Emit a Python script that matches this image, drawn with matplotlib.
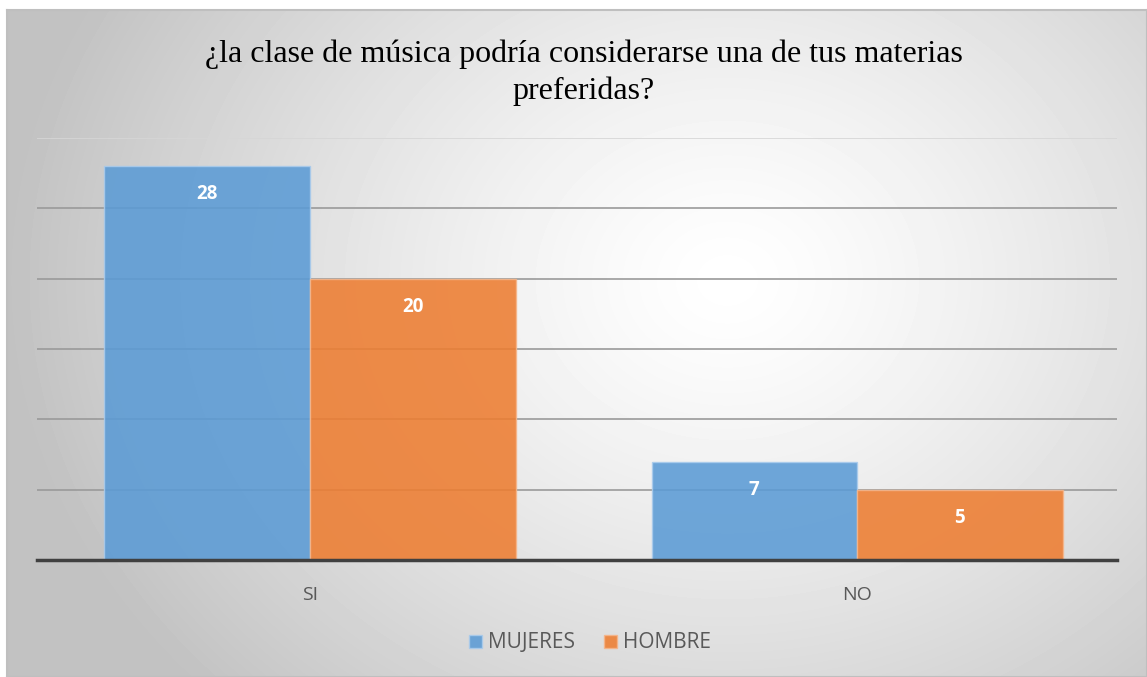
import numpy as np
import matplotlib.pyplot as plt

categorias = ['SI', 'NO']
mujeres = [28, 7]
hombre = [20, 5]
series = ['MUJERES', 'HOMBRE']
yticks = [0, 5, 10, 15, 20, 25, 30]

W, H = 1147, 677
fig = plt.figure(figsize=(W / 100, H / 100), dpi=100)
fig.patch.set_facecolor('white')

# fondo con degradado radial
bg = fig.add_axes([7 / W, 0, (W - 7) / W, (H - 10) / H])
xx, yy = np.meshgrid(np.arange(W - 7), np.arange(H - 10))
r = np.hypot(xx - 720, (yy - 270) * 1.2) / 720
val = 1 - 0.24 * np.clip(r, 0, 1) ** 1.3
bg.imshow(val, cmap='gray', vmin=0, vmax=1, aspect='auto', interpolation='bilinear')
bg.set_xticks([])
bg.set_yticks([])
for s in bg.spines.values():
    s.set_color('#bfbfbf')
    s.set_linewidth(1.5)

ax = fig.add_axes([37 / W, 1 - 560 / H, 1080 / W, 422 / H])
ax.set_facecolor('none')

x = np.arange(len(categorias))
w = 0.3757
b1 = ax.bar(x - w / 2, mujeres, w, color='#5B9BD5', alpha=0.88, edgecolor='#a9cbec',
            linewidth=1, label=series[0], zorder=3)
b2 = ax.bar(x + w / 2, hombre, w, color='#ED7D31', alpha=0.88, edgecolor='#f5b58a',
            linewidth=1, label=series[1], zorder=3)

for bars in (b1, b2):
    for bar in bars:
        ax.annotate(str(int(bar.get_height())),
                    (bar.get_x() + bar.get_width() / 2, bar.get_height()),
                    xytext=(0, -28), textcoords='offset pixels', ha='center', va='center',
                    color='white', fontsize=13.5, fontweight='bold', family='Open Sans', zorder=4)

ax.set_ylim(0, 30)
ax.set_xlim(-0.499, 1.475)
ax.set_yticks(yticks)
ax.yaxis.grid(True, color='#9a9a9a', linewidth=1.2, zorder=1)
ax.get_ygridlines()[-1].set_color('#d6d6d6')
ax.tick_params(axis='y', length=0, labelleft=False)
ax.set_xticks(x)
ax.set_xticklabels(categorias)
ax.tick_params(axis='x', length=0, pad=19, labelsize=14, labelcolor='#595959')
for lbl in ax.get_xticklabels():
    lbl.set_family('Open Sans')
for s in ['top', 'right', 'left']:
    ax.spines[s].set_visible(False)
ax.spines['bottom'].set_color('#404040')
ax.spines['bottom'].set_linewidth(2.5)
ax.spines['bottom'].set_zorder(5)

fig.text(584 / W, 1 - 73 / H, '¿la clase de música podría considerarse una de tus materias\npreferidas?',
         ha='center', va='center', fontsize=23, family='Liberation Serif', linespacing=1.32)

fig.legend(handles=[b1, b2], labels=series, loc='center', bbox_to_anchor=(590 / W, 1 - 643 / H),
           ncol=2, frameon=False, handlelength=0.6, handleheight=0.6, handletextpad=0.3,
           columnspacing=1.4, prop={'family': 'Open Sans', 'size': 15}, labelcolor='#595959')

plt.savefig('out.png', dpi=100)
